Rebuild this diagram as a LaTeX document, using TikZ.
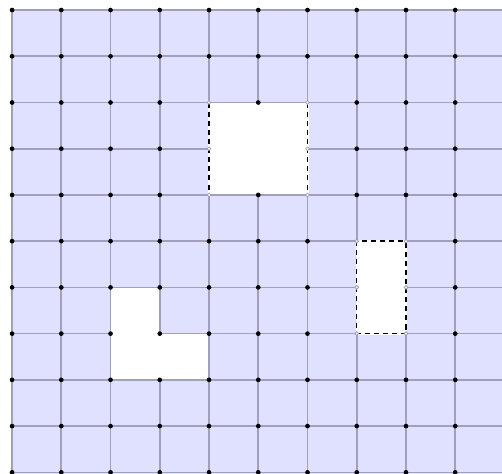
\documentclass[tikz,border=0pt]{standalone}
\definecolor{bluefill}{RGB}{224,224,255}
\definecolor{gridc}{RGB}{160,160,188}
\begin{document}
\begin{tikzpicture}[x=36.75pt,y=-34.5pt,
  gridline/.style={draw=gridc,line width=1.2pt},
  eraseline/.style={draw=white,line width=1.7pt},
  dashline/.style={draw=black,line width=1.1pt,dash pattern=on 3.8pt off 3pt},
  blackdot/.style={fill=black},
  opendot/.style={fill=white,draw=gridc,line width=0.6pt}]
\useasboundingbox (-0.2449,-0.2174) rectangle (9.95,10.022);
\clip (-0.2449,-0.2174) rectangle (9.95,10.022);
\fill[bluefill] (0,0) rectangle (11,11);
\foreach \i in {0,...,10} \draw[gridline] (\i,0) -- (\i,11);
\foreach \j in {0,...,10} \draw[gridline] (0,\j) -- (11,\j);
% holes
\fill[white] (4,2) rectangle (6,4);
\fill[white] (7,5) rectangle (8,7);
\fill[white] (2,6) -- (3,6) -- (3,7) -- (4,7) -- (4,8) -- (2,8) -- cycle;
% L boundary
\draw[gridline] (2,6) -- (3,6) -- (3,7) -- (4,7) -- (4,8) -- (2,8) -- cycle;
% square hole: solid top/bottom, dashed sides
\draw[gridline] (4,2) -- (6,2) (4,4) -- (6,4);
\draw[eraseline] (4,2) -- (4,4) (6,2) -- (6,4);
\draw[dashline] (4,2) -- (4,4) (6,2) -- (6,4);
% rectangle hole: dashed all round
\draw[eraseline] (7,5) rectangle (8,7);
\draw[dashline] (7,5) rectangle (8,7);
% black dots
\foreach \y in {0,1,8,9,10} \foreach \x in {0,...,10} \fill[blackdot] (\x,\y) circle (1.75pt);
\foreach \y in {2,4} \foreach \x in {0,1,2,3,5,7,8,9,10} \fill[blackdot] (\x,\y) circle (1.75pt);
\foreach \x in {0,1,2,3,7,8,9,10} \fill[blackdot] (\x,3) circle (1.75pt);
\foreach \y in {5,6,7} \foreach \x in {0,1,2,3,4,5,6,9,10} \fill[blackdot] (\x,\y) circle (1.75pt);
% open dots
\foreach \p in {(4,2),(6,2),(4,3),(6,3),(4,4),(6,4),(7,5),(8,5),(7,6),(8,6),(7,7),(8,7)}
  \draw[opendot] \p circle (1.4pt);
\end{tikzpicture}
\end{document}
